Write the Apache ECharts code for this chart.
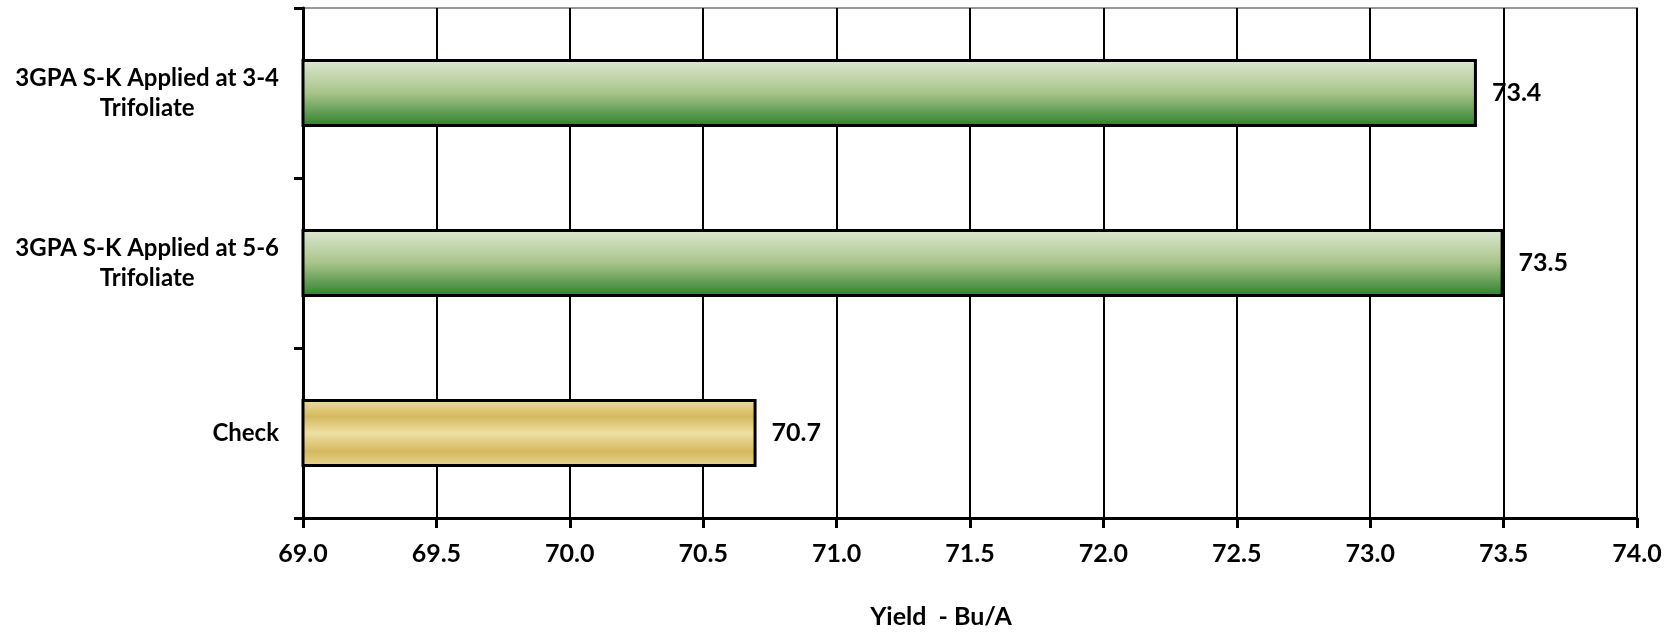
<!DOCTYPE html>
<html>
<head>
<meta charset="utf-8">
<script src="https://cdn.jsdelivr.net/npm/echarts@6/dist/echarts.min.js"></script>
<style>html,body{margin:0;padding:0;background:#fff}#c{width:1676px;height:634px}</style>
</head>
<body>
<div id="c"></div>
<script>
const categories = ["Check", "3GPA S-K Applied at 5-6\nTrifoliate", "3GPA S-K Applied at 3-4\nTrifoliate"];
const values = [70.7, 73.5, 73.4];
const xMin = 69.0, xMax = 74.0, xStep = 0.5;
const axisTitle = "Yield  - Bu/A";

const greenGrad = new echarts.graphic.LinearGradient(0, 0, 0, 1, [
  {offset: 0, color: '#dee9d2'},
  {offset: 0.5, color: '#a8c48a'},
  {offset: 1, color: '#2a7f2a'}
]);
const goldGrad = new echarts.graphic.LinearGradient(0, 0, 0, 1, [
  {offset: 0, color: '#ecdda0'},
  {offset: 0.26, color: '#d5b95f'},
  {offset: 0.5, color: '#ede0a2'},
  {offset: 0.77, color: '#d5b95f'},
  {offset: 1, color: '#e8d592'}
]);

const font = 'Lato, "Open Sans", sans-serif';
const fs = 25;
const chart = echarts.init(document.getElementById('c'), null, {renderer: 'canvas'});
chart.setOption({
  animation: false,
  grid: {left: 303, right: 39, top: 8, bottom: 114, show: true, borderColor: '#999', borderWidth: 2, backgroundColor: 'transparent'},
  xAxis: {
    type: 'value', min: xMin, max: xMax, interval: xStep,
    axisLine: {show: true, lineStyle: {color: '#000', width: 3}},
    axisTick: {show: true, length: 10, lineStyle: {color: '#000', width: 3}},
    axisLabel: {formatter: v => v.toFixed(1), color: '#000', fontSize: fs, fontWeight: 'bold', fontFamily: font, margin: 23},
    splitLine: {show: true, lineStyle: {color: '#000', width: 2}},
    name: axisTitle, nameLocation: 'middle', nameGap: 86,
    nameTextStyle: {color: '#000', fontSize: fs, fontWeight: 'bold', fontFamily: font, padding: [0, 58, 0, 0]}
  },
  yAxis: {
    type: 'category', data: categories,
    axisLine: {show: true, lineStyle: {color: '#000', width: 3}},
    axisTick: {show: true, length: 9, lineStyle: {color: '#000', width: 3}},
    axisLabel: {color: '#000', fontSize: fs, fontWeight: 'bold', fontFamily: font, margin: 24, align: 'right',
      formatter: v => v.split('\n').map(s => '{c|' + s + '}').join('\n'),
      rich: {c: {align: 'center', fontSize: 24, fontWeight: 'bold', fontFamily: font, color: '#000', lineHeight: 30}}},
    splitLine: {show: false}
  },
  series: [{
    type: 'bar',
    data: values.map((v, i) => ({value: v, itemStyle: {color: i === 0 ? goldGrad : greenGrad}})),
    barCategoryGap: '60%',
    itemStyle: {borderColor: '#000', borderWidth: 3},
    label: {show: true, position: 'right', distance: 15, formatter: p => p.value.toFixed(1), color: '#000', fontSize: fs, fontWeight: 'bold', fontFamily: font}
  }]
});
</script>
</body>
</html>
